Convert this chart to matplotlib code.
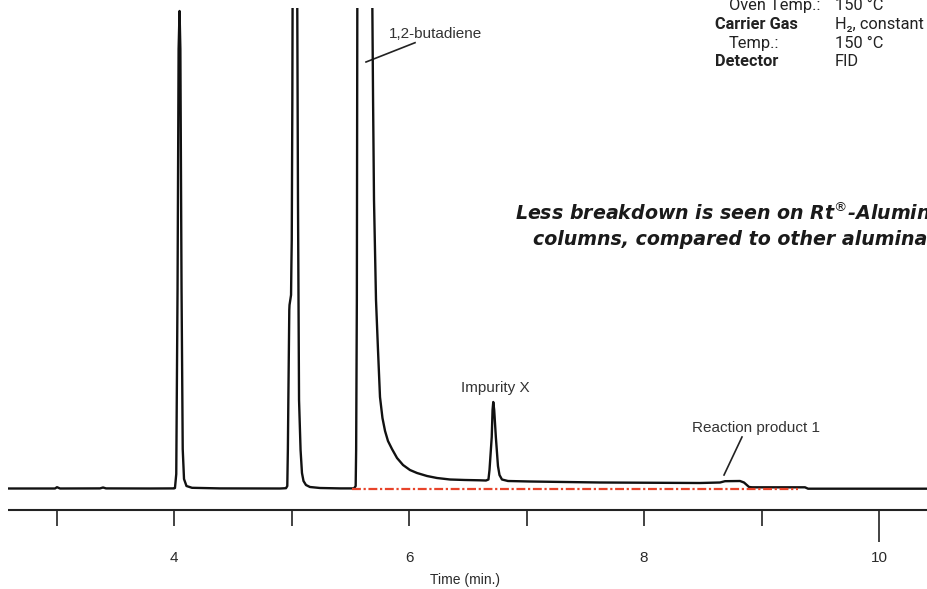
import matplotlib
matplotlib.use("Agg")
import matplotlib.pyplot as plt

# ---- data ----
time_min = [2.587, 2.987, 3.004, 3.030, 3.370, 3.396, 3.421, 3.796,
            4.000, 4.008, 4.019, 4.030, 4.039, 4.047, 4.054, 4.064, 4.074, 4.085, 4.106, 4.153, 4.391,
            4.902, 4.953, 4.964, 4.969, 4.973, 4.981, 4.983, 4.996, 4.999, 5.002, 5.007, 5.009, 5.011,
            5.047, 5.049, 5.055, 5.064, 5.077, 5.089, 5.102, 5.123, 5.157, 5.243, 5.413,
            5.532, 5.546, 5.550, 5.556, 5.560, 5.561,
            5.683, 5.688, 5.694, 5.702, 5.719, 5.736, 5.753, 5.774, 5.796, 5.821, 5.855, 5.898,
            5.949, 6.008, 6.068, 6.153, 6.238, 6.349, 6.477, 6.604,
            6.655, 6.676, 6.685, 6.704, 6.711, 6.717, 6.725, 6.739, 6.757, 6.770, 6.791, 6.842,
            7.030, 7.625, 8.476, 8.647, 8.689, 8.817, 8.851, 8.894, 8.919, 9.370, 9.396, 10.604]
signal = [0.5, 0.5, 1.8, 0.5, 0.6, 1.5, 0.6, 0.5,
          0.6, 1.0, 15, 200, 440, 478, 440, 200, 40, 10, 3, 1.2, 0.6,
          0.5, 0.8, 3, 40, 89, 179, 184, 194, 224, 249, 389, 481, 520,
          520, 481, 289, 89, 39, 16, 8, 4, 2, 1, 0.6,
          0.6, 3, 39, 189, 481, 520,
          520, 481, 389, 289, 189, 139, 92, 71, 58, 48, 40, 31,
          24, 19, 16, 13, 11, 9.5, 9, 8.7,
          8.5, 9.5, 19, 52, 79, 87, 79, 52, 23, 14, 9.5, 8,
          7.5, 6.5, 6, 6.5, 7.8, 8, 6.5, 2, 1.7, 1.7, 0.3, 0.3]

baseline_span = [5.515, 9.311]
tick_times = [3, 4, 5, 6, 7, 8, 9, 10]
tick_labels = ["", "4", "", "6", "", "8", "", "10"]

peak_labels = ["1,2-butadiene", "Impurity X", "Reaction product 1"]

cond_rows = ["Oven Temp.:", "Carrier Gas", "Temp.:", "Detector"]
cond_vals = ["150 \u00b0C", "H\u2082, constant pressure", "150 \u00b0C", "FID"]
cond_bold = [False, True, False, True]

note_lines = [r"Less breakdown is seen on Rt$^{\circledR}$-Alumina",
              "columns, compared to other alumina"]

# ---- figure ----
W, H = 927, 589
fig = plt.figure(figsize=(W / 100, H / 100), dpi=100)
ax = fig.add_axes([8 / W, 0, 1 - 8 / W, (H - 8) / H])
ax.set_xlim(2.587, 10.4085)
ax.set_ylim(-100, 481)
ax.axis("off")

lab_font = ["Liberation Sans", "DejaVu Sans"]
cond_font = ["Roboto", "Liberation Sans", "DejaVu Sans"]

ax.plot(time_min, signal, color="#111111", lw=1.7, solid_joinstyle="round", zorder=3)
ax.plot(baseline_span, [0, 0], color="#e8432a", lw=1.6,
        linestyle=(0, (4, 1.2, 1, 1.2)), zorder=4)

# time axis
ax.axhline(-21, color="#222222", lw=1.5)
ax.vlines(tick_times, -37, -21, color="#222222", lw=1.2)
ax.vlines([tick_times[-1]], -53, -37, color="#222222", lw=1.2)
for t, lab in zip(tick_times, tick_labels):
    ax.text(t, -72.5, lab, ha="center", va="baseline", fontsize=11,
            family=lab_font, color="#2a2a2a")
ax.text(6.475, -95, "Time (min.)", ha="center", va="baseline", fontsize=10,
        family=lab_font, color="#2a2a2a")

# peak annotations
ax.text(5.830, 451.5, peak_labels[0], ha="left", va="baseline", fontsize=11,
        family=lab_font, color="#333333")
ax.plot([5.634, 6.051], [427, 446.3], color="#222222", lw=1.2)
ax.text(6.732, 97, peak_labels[1], ha="center", va="baseline", fontsize=11,
        family=lab_font, color="#333333")
ax.text(8.408, 57, peak_labels[2], ha="left", va="baseline", fontsize=11,
        family=lab_font, color="#333333")
ax.plot([8.681, 8.834], [14, 52], color="#222222", lw=1.2)

# conditions block (top right)
def fx(x):
    return x / W

def fy(y):
    return 1 - y / H

row_base = [10, 29, 48, 66.5]
for lab, val, b, yb in zip(cond_rows, cond_vals, cond_bold, row_base):
    fig.text(fx(715 if b else 729), fy(yb), lab, ha="left", va="baseline",
             fontsize=11.8, family=cond_font, fontweight="bold" if b else "normal",
             color="#222222")
    fig.text(fx(835), fy(yb), val, ha="left", va="baseline", fontsize=11.8,
             family=cond_font, color="#222222")

# italic note
note_font = ["DejaVu Sans"]
fig.text(fx(515), fy(219.5), note_lines[0], ha="left", va="baseline", fontsize=13.7,
         family=note_font, fontweight="bold", fontstyle="oblique", color="#1a1a1a")
fig.text(fx(533), fy(245), note_lines[1], ha="left", va="baseline", fontsize=13.7,
         family=note_font, fontweight="bold", fontstyle="oblique", color="#1a1a1a")

fig.savefig("out.png", dpi=100)
